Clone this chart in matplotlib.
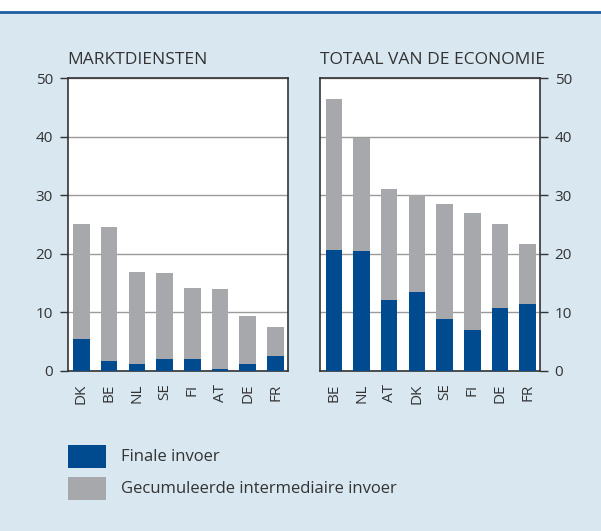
import numpy as np
import matplotlib.pyplot as plt
from matplotlib.patches import Rectangle
from matplotlib.lines import Line2D

plt.rcParams['font.family'] = ['Open Sans', 'DejaVu Sans']

# MARKTDIENSTEN
landen_m = ['DK', 'BE', 'NL', 'SE', 'FI', 'AT', 'DE', 'FR']
totaal_m = [25.1, 24.5, 16.9, 16.7, 14.2, 14.0, 9.4, 7.5]
finale_m = [5.45, 1.7, 1.2, 2.05, 2.05, 0.35, 1.2, 2.55]

# TOTAAL VAN DE ECONOMIE
landen_t = ['BE', 'NL', 'AT', 'DK', 'SE', 'FI', 'DE', 'FR']
totaal_t = [46.4, 39.8, 31.0, 30.0, 28.5, 26.9, 25.05, 21.65]
finale_t = [20.6, 20.45, 12.1, 13.5, 8.85, 7.0, 10.75, 11.4]

blauw = '#004a8f'
grijs = '#a7a8ab'
achtergrond = '#d8e7f0'
tekst = '#333333'

W, H = 601, 531
fig = plt.figure(figsize=(W / 100, H / 100), dpi=100, facecolor=achtergrond)

# wit strookje boven + blauwe lijn
fig.patches.append(Rectangle((0, 1 - 12 / H), 1, 12 / H, transform=fig.transFigure,
                             facecolor='white', edgecolor='none', zorder=0))
fig.lines.append(Line2D([0, 1], [1 - 12 / H, 1 - 12 / H], transform=fig.transFigure,
                        color='#1f5fa0', linewidth=2))


def paneel(left, right, landen, totaal, finale, titel, rechts=False):
    top, bottom = 78, 371
    ax = fig.add_axes([left / W, 1 - bottom / H, (right - left) / W, (bottom - top) / H])
    ax.set_facecolor('white')
    x = np.arange(len(landen))
    inter = np.array(totaal) - np.array(finale)
    ax.bar(x, finale, width=0.6, color=blauw, zorder=3)
    ax.bar(x, inter, bottom=finale, width=0.6, color=grijs, zorder=3)
    ax.set_xlim(-0.5, len(landen) - 0.55)
    ax.set_ylim(0, 50)
    ax.set_yticks(range(0, 51, 10))
    ax.yaxis.grid(True, color='#9a9a9a', linewidth=1.0, zorder=1)
    ax.set_xticks(x)
    ax.set_xticklabels(landen, rotation=90, fontsize=11, color=tekst)
    ax.tick_params(axis='x', length=0, pad=9)
    ax.tick_params(axis='y', length=5.5, width=1, color=tekst, labelsize=11,
                   labelcolor=tekst, pad=5)
    if rechts:
        ax.yaxis.tick_right()
    for s in ax.spines.values():
        s.set_color(tekst)
        s.set_linewidth(1.2)
    ax.text(0, 1.035, titel, transform=ax.transAxes, fontsize=12.5, color=tekst,
            ha='left', va='bottom')
    return ax


paneel(67.5, 288, landen_m, totaal_m, finale_m, 'MARKTDIENSTEN')
paneel(320, 540, landen_t, totaal_t, finale_t, 'TOTAAL VAN DE ECONOMIE', rechts=True)

# legenda
for i, (kleur, label) in enumerate([(blauw, 'Finale invoer'),
                                     (grijs, 'Gecumuleerde intermediaire invoer')]):
    y0 = 445 + i * 32
    fig.patches.append(Rectangle((68 / W, 1 - (y0 + 23) / H), 38 / W, 23 / H,
                                 transform=fig.transFigure, facecolor=kleur,
                                 edgecolor='none'))
    fig.text(121 / W, 1 - (y0 + 12) / H, label, fontsize=12, color=tekst,
             ha='left', va='center')

fig.savefig('out.png', dpi=100, facecolor=achtergrond)
